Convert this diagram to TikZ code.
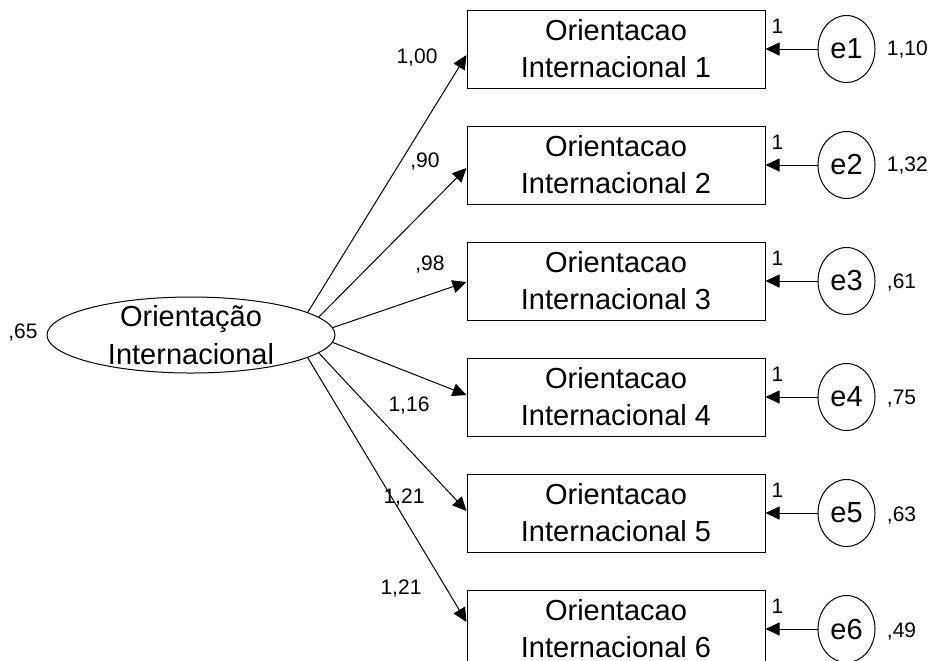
\documentclass[tikz,border=0pt]{standalone}
\usepackage{fontspec}
\setmainfont{Liberation Sans}
\usetikzlibrary{
    arrows.meta,
    positioning,
    shapes.geometric
}

\begin{document}
\begin{tikzpicture}[
    x=0.5pt, y=-0.5pt,
    node distance=18.5pt and 26pt,
    obs/.style={rectangle, draw, line width=0.5pt, minimum width=149pt, minimum height=39pt, inner sep=0pt, align=center, font=\fontsize{14.5}{18.5}\selectfont},
    latent/.style={ellipse, draw, line width=0.5pt, minimum width=144pt, minimum height=38pt, inner sep=0pt},
    latenttext/.style={align=center, inner sep=0pt, font=\fontsize{14.5}{19}\selectfont},
    err/.style={ellipse, draw, line width=0.5pt, minimum width=28.5pt, minimum height=33.5pt, inner sep=0pt, font=\fontsize{14.5}{16}\selectfont},
    arrow/.style={-{Triangle[length=7pt,width=6.5pt]}, line width=0.5pt},
    num/.style={inner sep=0pt, font=\fontsize{10.5}{12}\selectfont}
]
\useasboundingbox (0,0) rectangle (930,660);

% Latent factor
\node[latent] (OI) at (191,335) {};
\node[latenttext] (OItxt) at (OI.center) {Orientação\\Internacional};
\node[num] (OIvar) at (23,332) {,65};

% Indicators
\node[obs] (b1) at (616,49) {Orientacao\\Internacional 1};
\node[obs, below=of b1] (b2) {Orientacao\\Internacional 2};
\node[obs, below=of b2] (b3) {Orientacao\\Internacional 3};
\node[obs, below=of b3] (b4) {Orientacao\\Internacional 4};
\node[obs, below=of b4] (b5) {Orientacao\\Internacional 5};
\node[obs, below=of b5] (b6) {Orientacao\\Internacional 6};

% Errors
\node[err, right=of b1] (e1) {e1};
\node[err, right=of b2] (e2) {e2};
\node[err, right=of b3] (e3) {e3};
\node[err, right=of b4] (e4) {e4};
\node[err, right=of b5] (e5) {e5};
\node[err, right=of b6] (e6) {e6};

% Error variances
\node[num, right=5.5pt of e1, yshift=-0.5pt] (v1) {1,10};
\node[num, right=5.5pt of e2, yshift=-0.5pt] (v2) {1,32};
\node[num, right=5.5pt of e3, yshift=-1pt] (v3) {,61};
\node[num, right=5.5pt of e4, yshift=-1pt] (v4) {,75};
\node[num, right=5.5pt of e5, yshift=-1pt] (v5) {,63};
\node[num, right=5.5pt of e6, yshift=-1pt] (v6) {,49};

% Loadings
\draw[arrow] (OI.11) -- ([yshift=-3pt]b1.west);
\draw[arrow] (OI.8) -- ([yshift=-1.5pt]b2.west);
\draw[arrow] (OI.3) -- ([yshift=-0.5pt]b3.west);
\draw[arrow] (OI.-3) -- ([yshift=1pt]b4.west);
\draw[arrow] (OI.-8) -- ([yshift=1pt]b5.west);
\draw[arrow] (OI.-11) -- ([yshift=3.5pt]b6.west);

\node[num] (l1) at (417,58) {1,00};
\node[num] (l2) at (425,162) {,90};
\node[num] (l3) at (430,264) {,98};
\node[num] (l4) at (409,405) {1,16};
\node[num] (l5) at (404,497) {1,21};
\node[num] (l6) at (401,588) {1,21};

% Error paths
\draw[arrow] (e1) -- (b1);
\draw[arrow] (e2) -- (b2);
\draw[arrow] (e3) -- (b3);
\draw[arrow] (e4) -- (b4);
\draw[arrow] (e5) -- (b5);
\draw[arrow] (e6) -- (b6);

\node[num] (w1) at ([xshift=6pt,yshift=-8.5pt]b1.north east) {1};
\node[num] (w2) at ([xshift=6pt,yshift=-8.5pt]b2.north east) {1};
\node[num] (w3) at ([xshift=6pt,yshift=-8.5pt]b3.north east) {1};
\node[num] (w4) at ([xshift=6pt,yshift=-8.5pt]b4.north east) {1};
\node[num] (w5) at ([xshift=6pt,yshift=-8.5pt]b5.north east) {1};
\node[num] (w6) at ([xshift=6pt,yshift=-8.5pt]b6.north east) {1};
\end{tikzpicture}
\end{document}
